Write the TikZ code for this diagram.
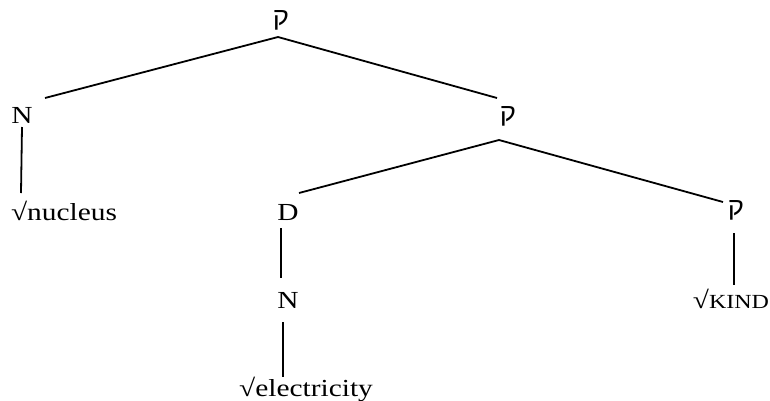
\documentclass[tikz,border=0pt]{standalone}
\usepackage{fontspec}
\setmainfont{Liberation Serif}[FakeStretch=1.2]
\newfontfamily\hebfont[Script=Hebrew,FakeStretch=1.1]{Liberation Sans}
\TeXXeTstate=1
\begin{document}
\begin{tikzpicture}[x=1pt,y=-1pt,
  lbl/.style={inner sep=0pt,outer sep=0pt,font=\fontsize{24.5}{25}\selectfont,anchor=base},
  heb/.style={inner sep=0pt,outer sep=0pt,font=\fontsize{25}{25}\selectfont\hebfont,anchor=center},
  edge/.style={line width=1.8pt,line cap=butt}]
\useasboundingbox (0,0) rectangle (770,400);
% labels
\node[heb] (q1) at (281,20) {\beginR ק\endR};
\node[lbl] (n1) at (22,123) {N};
\node[lbl] (nuc) at (64,220) {√nucleus};
\node[heb] (q2) at (508,116) {\beginR ק\endR};
\node[lbl] (d) at (288,220) {D};
\node[heb] (q3) at (736,210) {\beginR ק\endR};
\node[lbl] (n2) at (288,308) {N};
\node[lbl] (elec) at (306,396) {√electricity};
\node[lbl] (kind) at (731,308) {√{\fontsize{20}{20}\selectfont KIND}};
% connector ends
\coordinate (q1b) at (278,37);
\coordinate (n1t) at (45,98);
\coordinate (q2t) at (497,98);
\coordinate (n1b) at (22,127);
\coordinate (nuct) at (21,193);
\coordinate (q2b) at (499,140);
\coordinate (dt) at (299,193);
\coordinate (q3t) at (723,202);
\coordinate (db) at (281,228);
\coordinate (n2t) at (281,278);
\coordinate (n2b) at (283,322);
\coordinate (elect) at (283,377);
\coordinate (q3b) at (734,233);
\coordinate (kindt) at (734,285);
% connectors
\draw[edge] (q1b) -- (n1t);
\draw[edge] (q1b) -- (q2t);
\draw[edge] (n1b) -- (nuct);
\draw[edge] (q2b) -- (dt);
\draw[edge] (q2b) -- (q3t);
\draw[edge] (db) -- (n2t);
\draw[edge] (n2b) -- (elect);
\draw[edge] (q3b) -- (kindt);
\end{tikzpicture}
\end{document}
